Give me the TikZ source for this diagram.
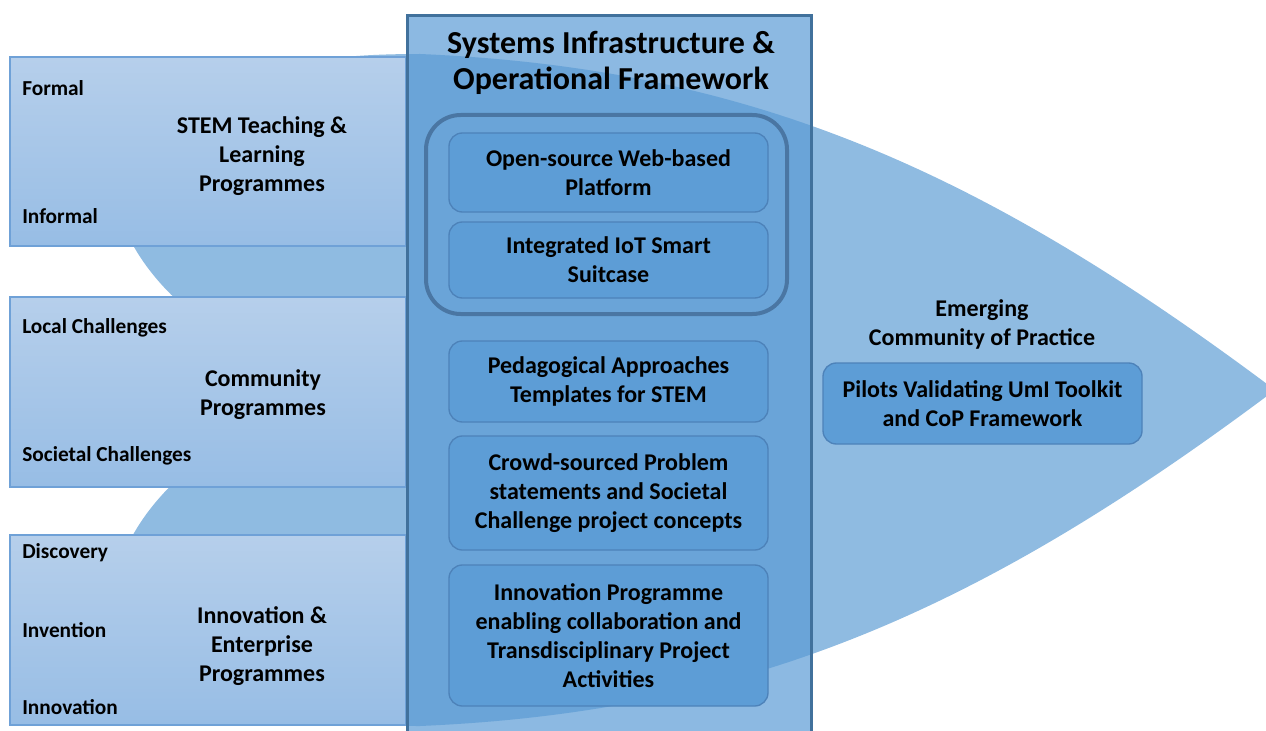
\documentclass[tikz,border=0pt]{standalone}
\usepackage{fontspec}
\setmainfont{Carlito}
\usetikzlibrary{fit}
\definecolor{lensC}{HTML}{8FBBE1}
\definecolor{boxTop}{HTML}{B6CFEB}
\definecolor{boxBot}{HTML}{97BDE5}
\definecolor{boxLine}{HTML}{6FA1D7}
\definecolor{colFill}{HTML}{5B9BD5}
\definecolor{colLine}{HTML}{41719C}
\definecolor{contLine}{HTML}{4A76A3}
\definecolor{iboxFill}{HTML}{5D9DD6}
\definecolor{iboxLine}{HTML}{4D82B9}
\begin{document}
\begin{tikzpicture}[x=0.75pt,y=-0.75pt,
  lbox/.style={inner sep=0pt, draw=boxLine, line width=0.8pt, top color=boxTop, bottom color=boxBot},
  colbox/.style={inner sep=0pt, draw=colLine, line width=2.25pt, fill=colFill, fill opacity=0.7, draw opacity=1},
  contbox/.style={inner sep=0pt, draw=contLine, line width=3pt, rounded corners=26pt},
  ibox/.style={inner sep=0pt, draw=iboxLine, line width=1pt, fill=iboxFill, rounded corners=10pt},
  bigtxt/.style={font=\fontsize{18}{21.75}\selectfont\bfseries, align=center, inner sep=0pt, text=black},
  smalltxt/.style={font=\fontsize{16}{19}\selectfont\bfseries, anchor=west, inner sep=0pt},
  titletxt/.style={font=\fontsize{24}{27.5}\selectfont\bfseries, align=center, inner sep=0pt}]
\useasboundingbox (0,0) rectangle (1266,731);
\clip (0,0) rectangle (1266,731);
% big curved chevron
\fill[lensC] (110,170) .. controls (200,70) and (300,54) .. (420,54)
  .. controls (745,68) and (975,165) .. (1275,390)
  .. controls (975,615) and (745,712) .. (420,726)
  .. controls (300,726) and (200,710) .. (110,610)
  .. controls (115,550) and (150,460) .. (330,390)
  .. controls (150,320) and (115,230) .. cycle;
% left boxes
\node[lbox, fit={(10,57) (406,246)}] (stem) {};
\node[lbox, fit={(10,297) (406,487)}] (comm) {};
\node[lbox, fit={(10,535) (406,725)}] (innov) {};
\node[smalltxt] (formal) at (22,88) {Formal};
\node[smalltxt] (informal) at (22,216) {Informal};
\node[bigtxt] (stemT) at (262,156) {STEM Teaching \&\\Learning\\Programmes};
\node[smalltxt] (local) at (22,328) {Local Challenges};
\node[smalltxt] (societal) at (22,456) {Societal Challenges};
\node[bigtxt] (commT) at (263,394.5) {Community\\Programmes};
\node[smalltxt] (disc) at (22,553) {Discovery};
\node[smalltxt] (inv) at (22,630) {Invention};
\node[smalltxt] (inno) at (22,707) {Innovation};
\node[bigtxt] (innovT) at (262,646) {Innovation \&\\Enterprise\\Programmes};
% central column
\node[colbox, fit={(407.5,16) (811.5,760)}] (col) {};
\node[titletxt] (title) at (611,63) {Systems Infrastructure \&\\Operational Framework};
\node[contbox, fit={(426,115) (787,314)}] (cont) {};
\node[ibox, fit={(449,133) (768,212)}] (web) {};
\node[bigtxt] (webT) at (web.center) {Open-source Web-based\\Platform};
\node[ibox, fit={(449,222) (768,298)}] (iot) {};
\node[bigtxt] (iotT) at (iot.center) {Integrated IoT Smart\\Suitcase};
\node[ibox, fit={(449,341) (768,422)}] (peda) {};
\node[bigtxt] (pedaT) at (peda.center) {Pedagogical Approaches\\Templates for STEM};
\node[ibox, fit={(449,436) (768,550)}] (crowd) {};
\node[bigtxt] (crowdT) at (crowd.center) {Crowd-sourced Problem\\statements and Societal\\Challenge project concepts};
\node[ibox, fit={(449,565) (768,706)}] (prog) {};
\node[bigtxt] (progT) at (prog.center) {Innovation Programme\\enabling collaboration and\\Transdisciplinary Project\\Activities};
% right side
\node[bigtxt] (cop) at (982,324.5) {Emerging\\Community of Practice};
\node[ibox, fit={(823,363) (1142,444)}] (pilots) {};
\node[bigtxt] (pilotsT) at (pilots.center) {Pilots Validating UmI Toolkit\\and CoP Framework};
\end{tikzpicture}
\end{document}
